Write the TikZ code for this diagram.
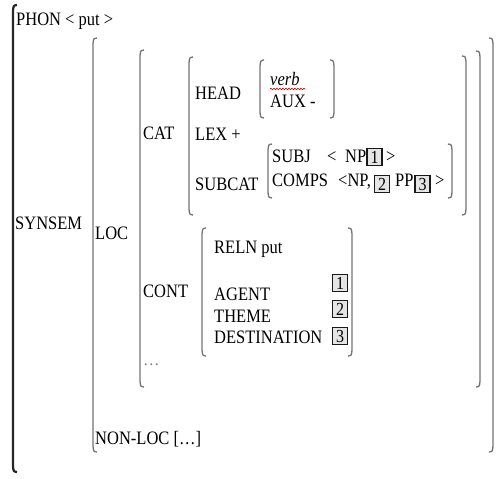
\documentclass[tikz,border=0pt]{standalone}
\usepackage{fontspec}
\usepackage{graphicx}
\setmainfont{Liberation Serif}
\usetikzlibrary{decorations.pathmorphing}
\newcommand\T[1]{\scalebox{1}[1.15]{#1}}
\tikzset{
  lbl/.style={anchor=base west, inner sep=0pt, font=\fontsize{16.5}{18}\selectfont},
  brk/.style={draw=black!55, line width=1.3pt},
  obrk/.style={draw=black!85, line width=2.2pt},
  num/.style={draw=black!90, line width=1.9pt, fill=black!10, inner sep=0pt,
    minimum width=15pt, minimum height=17pt, font=\fontsize{16}{16}\selectfont, anchor=center},
  spell/.style={draw=red!80!black, line width=0.6pt, decorate,
    decoration={snake, amplitude=0.8pt, segment length=3pt}}
}
\newcommand\LB[4][brk]{\draw[#1] (#2+4,#3) .. controls (#2+0.5,#3+0.5) .. (#2,#3+6) -- (#2,#4-6) .. controls (#2+0.5,#4-0.5) .. (#2+4,#4);}
\newcommand\RB[4][brk]{\draw[#1] (#2-4,#3) .. controls (#2-0.5,#3+0.5) .. (#2,#3+6) -- (#2,#4-6) .. controls (#2-0.5,#4-0.5) .. (#2-4,#4);}
\begin{document}
\begin{tikzpicture}[x=1pt,y=-1pt]
\useasboundingbox (0,0) rectangle (502,478);
% brackets
\LB[obrk]{13}{5}{472}
\LB{93}{38}{452}   \RB{493}{38}{452}
\LB{140}{50}{387}  \RB{480}{51}{387}
\LB{189}{57}{215}  \RB{466}{56}{215}
\LB{260}{60}{118}  \RB{334}{60}{118}
\LB{268}{144}{198} \RB{452}{144}{198}
\LB{202}{228}{356} \RB{352}{228}{356}
% top level
\node[lbl] (phon) at (16,26) {\T{PHON < put >}};
\node[lbl] (synsem) at (15,229) {\T{SYNSEM}};
\node[lbl] (loc) at (95,239) {\T{LOC}};
\node[lbl] (nonloc) at (95,444) {\T{NON-LOC […]}};
% CAT
\node[lbl] (cat) at (143,140) {\T{CAT}};
\node[lbl] (head) at (195,100) {\T{HEAD}};
\node[lbl] (verb) at (270,86) {\T{\itshape verb}};
\draw[spell] (verb.base west) ++(0,3) -- ++(35,0);
\node[lbl] (aux) at (270,108) {\T{AUX -}};
\node[lbl] (lex) at (195,141) {\T{LEX +}};
\node[lbl] (subcat) at (195,190) {\T{SUBCAT}};
\node[lbl] (subj) at (272,163) {\T{SUBJ}};
\node[lbl] (sl) at (327,163) {\T{<}};
\node[lbl] (snp) at (345,163) {\T{NP}};
\node[num] (s1) at (374.5,157) {\T{1}};
\node[lbl] (sr) at (386,163) {\T{>}};
\node[lbl] (comps) at (272,186) {\T{COMPS}};
\node[lbl] (cnp) at (338,186) {\T{<NP,}};
\node[num] (c2) at (382,184) {\T{2}};
\node[lbl] (cpp) at (395,186) {\T{PP}};
\node[num] (c3) at (422.5,184) {\T{3}};
\node[lbl] (cr) at (435,186) {\T{>}};
% CONT
\node[lbl] (cont) at (143,297) {\T{CONT}};
\node[lbl] (reln) at (214,253) {\T{RELN put}};
\node[lbl] (agent) at (214,300) {\T{AGENT}};
\node[lbl] (theme) at (214,322) {\T{THEME}};
\node[lbl] (dest) at (214,343) {\T{DESTINATION}};
\node[num] (a1) at (340,283) {\T{1}};
\node[num] (t2) at (340,309) {\T{2}};
\node[num] (d3) at (340,336) {\T{3}};
\node[lbl, text=black!50] (dots) at (143,365) {…};
\end{tikzpicture}
\end{document}
